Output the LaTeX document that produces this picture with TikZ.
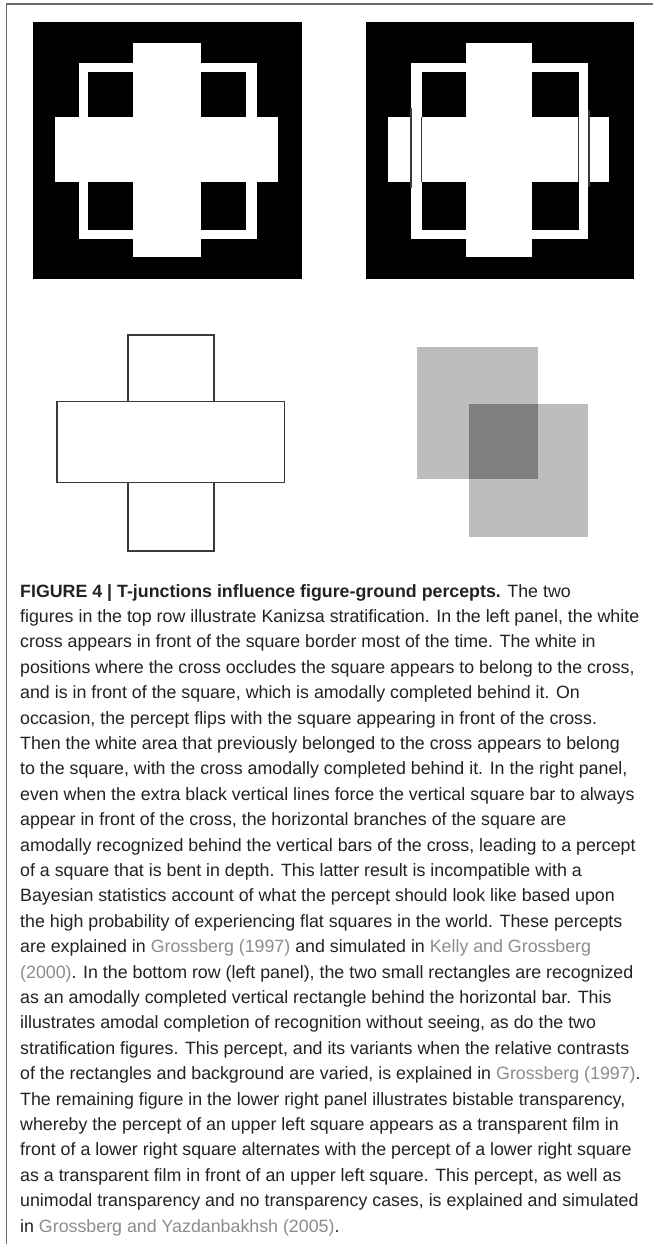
\documentclass[tikz,border=0pt]{standalone}
\usepackage{fontspec}
\setmainfont{Liberation Sans}
\definecolor{frame}{HTML}{6B6B6B}
\definecolor{txt}{HTML}{222222}
\definecolor{lnk}{HTML}{8C8C8C}
\definecolor{film}{HTML}{BDBDBD}
\definecolor{overlap}{HTML}{7F7F7F}
\definecolor{edge}{HTML}{3A3A3A}
\newcommand{\lk}[1]{\textcolor{lnk}{#1}}
\begin{document}
\begin{tikzpicture}[x=1pt,y=-1pt,
  whiteshape/.style={fill=white},
  blackshape/.style={fill=black},
  tjline/.style={draw=edge,line width=1.3pt},
  outline/.style={draw=edge,line width=1.5pt,fill=white},
  caption/.style={anchor=north west,inner sep=0pt,align=left,text=txt,
    font=\fontsize{17.8}{25.4}\selectfont}]
\useasboundingbox[fill=white] (0,0) rectangle (653,1244);
% frame
\draw[frame,line width=1.6pt] (653,4) -- (6.5,4) -- (6.5,1244);
% ---------- top left panel ----------
\fill[blackshape] (33.3,21.7) rectangle (302.3,279);
\fill[whiteshape] (79.3,62.7) rectangle (256.7,239);
\fill[blackshape] (88.3,72) rectangle (246,230);
\fill[whiteshape] (132.7,43.3) rectangle (200.7,256.7);
\fill[whiteshape] (55,117.3) rectangle (278.3,181.7);
% ---------- top right panel ----------
\fill[blackshape] (365.7,21.7) rectangle (634,279);
\fill[whiteshape] (410.7,62.7) rectangle (588.3,239);
\fill[blackshape] (421.7,72) rectangle (579,230);
\fill[whiteshape] (465.7,43.3) rectangle (532.3,256.7);
\fill[whiteshape] (388.3,117.3) rectangle (609.3,181.7);
\draw[tjline] (411,108) -- (411,188);
\draw[tjline] (421.7,117.3) -- (421.7,181.7);
\draw[tjline] (578.3,117.3) -- (578.3,181.7);
\draw[tjline] (589,110) -- (589,187);
% ---------- bottom left panel ----------
\draw[outline] (128,335) rectangle (213.8,401.7);
\draw[outline] (128,482.7) rectangle (213.8,551);
\draw[outline] (57,401.7) rectangle (284.6,482.7);
% ---------- bottom right panel ----------
\fill[film] (416.7,346.7) rectangle (537.9,479.3);
\fill[film] (468.8,404) rectangle (588.3,536.7);
\fill[overlap] (468.8,404) rectangle (537.9,479.3);
% ---------- caption ----------
\node[caption] (cap) at (20,584) {%
\textbf{FIGURE 4 | T-junctions influence figure-ground percepts.} The two\\
figures in the top row illustrate Kanizsa stratification. In the left panel, the white\\
cross appears in front of the square border most of the time. The white in\\
positions where the cross occludes the square appears to belong to the cross,\\
and is in front of the square, which is amodally completed behind it. On\\
occasion, the percept flips with the square appearing in front of the cross.\\
Then the white area that previously belonged to the cross appears to belong\\
to the square, with the cross amodally completed behind it. In the right panel,\\
even when the extra black vertical lines force the vertical square bar to always\\
appear in front of the cross, the horizontal branches of the square are\\
amodally recognized behind the vertical bars of the cross, leading to a percept\\
of a square that is bent in depth. This latter result is incompatible with a\\
Bayesian statistics account of what the percept should look like based upon\\
the high probability of experiencing flat squares in the world. These percepts\\
are explained in \lk{Grossberg (1997)} and simulated in \lk{Kelly and Grossberg}\\
\lk{(2000)}. In the bottom row (left panel), the two small rectangles are recognized\\
as an amodally completed vertical rectangle behind the horizontal bar. This\\
illustrates amodal completion of recognition without seeing, as do the two\\
stratification figures. This percept, and its variants when the relative contrasts\\
of the rectangles and background are varied, is explained in \lk{Grossberg (1997)}.\\
The remaining figure in the lower right panel illustrates bistable transparency,\\
whereby the percept of an upper left square appears as a transparent film in\\
front of a lower right square alternates with the percept of a lower right square\\
as a transparent film in front of an upper left square. This percept, as well as\\
unimodal transparency and no transparency cases, is explained and simulated\\
in \lk{Grossberg and Yazdanbakhsh (2005)}.};
\end{tikzpicture}
\end{document}
